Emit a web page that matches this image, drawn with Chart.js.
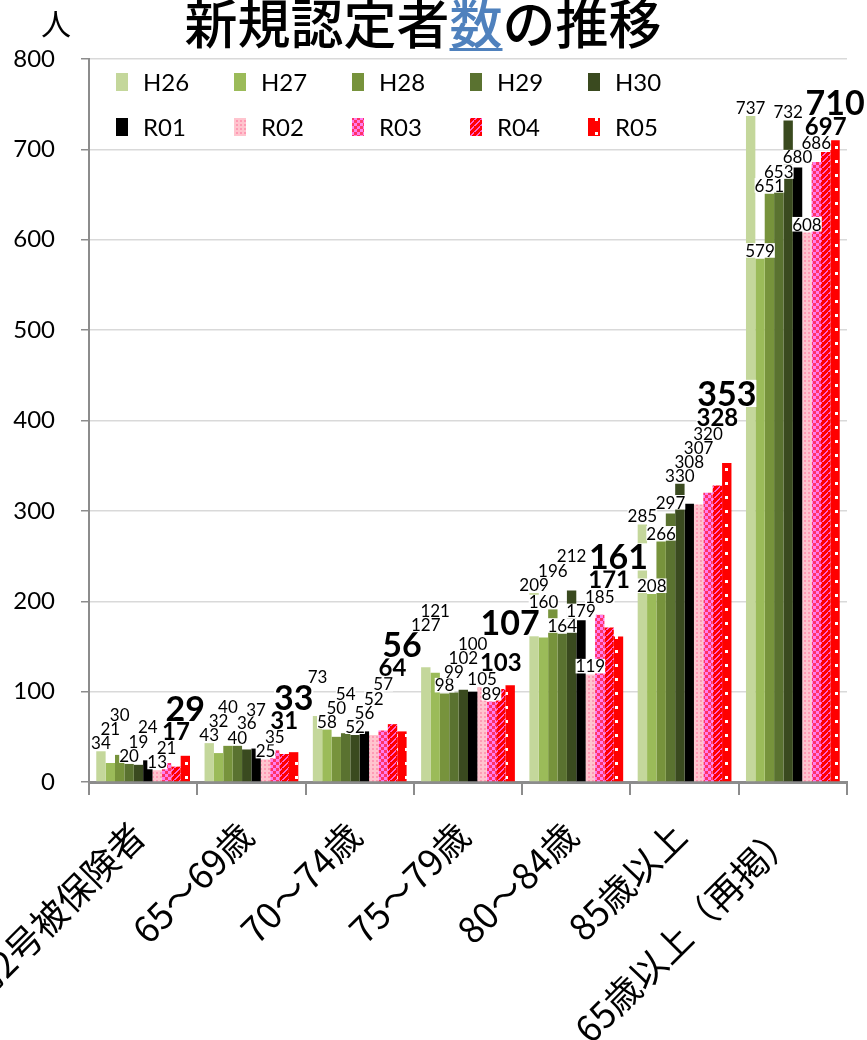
<!DOCTYPE html>
<html lang="ja">
<head>
<meta charset="utf-8">
<title>新規認定者数の推移</title>
<script src="https://cdn.jsdelivr.net/npm/chart.js@4.4.1/dist/chart.umd.min.js"></script>
<style>
  html, body { margin: 0; padding: 0; background: #fff; }
  #wrap { width: 867px; height: 1040px; }
</style>
</head>
<body>
<div id="wrap"><canvas id="chart" width="867" height="1040"></canvas></div>
<script>
// 新規認定者数の推移

const categories = ['第2号被保険者', '65～69歳', '70～74歳', '75～79歳', '80～84歳', '85歳以上', '65歳以上（再掲）'];
const years = ['H26', 'H27', 'H28', 'H29', 'H30', 'R01', 'R02', 'R03', 'R04', 'R05'];

const h26 = [34, 43, 73, 127, 209, 285, 737];
const h27 = [21, 32, 58, 121, 160, 208, 579];
const h28 = [30, 40, 50, 98, 196, 266, 651];
const h29 = [20, 40, 54, 99, 164, 297, 653];
const h30 = [19, 36, 52, 102, 212, 330, 732];
const r01 = [24, 37, 56, 100, 179, 308, 680];
const r02 = [13, 25, 52, 105, 119, 307, 608];
const r03 = [21, 35, 57, 89, 185, 320, 686];
const r04 = [17, 31, 64, 103, 171, 328, 697];
const r05 = [29, 33, 56, 107, 161, 353, 710];
const seriesValues = [h26, h27, h28, h29, h30, r01, r02, r03, r04, r05];

const yTicks = [0, 100, 200, 300, 400, 500, 600, 700, 800];

// fills
function makePattern(w, h, paint) {
    const c = document.createElement('canvas');
    c.width = w;
    c.height = h;
    const g = c.getContext('2d');
    paint(g, w, h);
    return g.createPattern(c, 'repeat');
}

const fillR02 = makePattern(4, 4, (g) => {
    g.fillStyle = '#FFC4CE';
    g.fillRect(0, 0, 4, 4);
    g.fillStyle = '#FF9AB4';
    g.fillRect(0, 0, 2, 2);
});
const fillR03 = makePattern(6, 6, (g) => {
    g.fillStyle = '#FF7DEF';
    g.fillRect(0, 0, 6, 6);
    g.fillStyle = '#FF3366';
    g.fillRect(0, 0, 3, 3);
    g.fillRect(3, 3, 3, 3);
});
const fillR04 = makePattern(6, 6, (g) => {
    g.fillStyle = '#FF0000';
    g.fillRect(0, 0, 6, 6);
    g.fillStyle = '#FF5FD0';
    for (let k = 0; k < 6; k++) {
        g.fillRect(k, 5 - k, 2, 1);
    }
});
const fillR05 = makePattern(10, 14, (g) => {
    g.fillStyle = '#FF0000';
    g.fillRect(0, 0, 10, 14);
    g.fillStyle = '#FFFFFF';
    g.fillRect(5, 6, 3, 3);
});

const fills = ['#C4D79B', '#9BBB59', '#77933C', '#5A7230', '#3A4A1F', '#000000', fillR02, fillR03, fillR04, fillR05];

function labelFont(d) {
    if (d === 9) return { size: 34, weight: 'bold' };
    if (d === 8) return { size: 24, weight: 'bold' };
    return { size: 17, weight: 'normal' };
}

// title + unit
const titlePlugin = {
    id: 'titleText',
    afterDraw(chart) {
        const ctx = chart.ctx;
        ctx.save();
        ctx.font = '500 53px "Noto Sans CJK JP"';
        ctx.textBaseline = 'alphabetic';
        const parts = [['新規認定者', '#000000'], ['数', '#4F81BD'], ['の推移', '#000000']];
        const total = parts.reduce((s, p) => s + ctx.measureText(p[0]).width, 0);
        let x = 423 - total / 2;
        parts.forEach(([t, c]) => {
            const w = ctx.measureText(t).width;
            ctx.fillStyle = c;
            ctx.fillText(t, x, 44);
            if (t === '数') ctx.fillRect(x, 48, w, 3);
            x += w;
        });
        ctx.font = '30px "Noto Sans CJK JP"';
        ctx.fillStyle = '#000';
        ctx.textAlign = 'center';
        ctx.textBaseline = 'middle';
        ctx.fillText('人', 56, 24);
        ctx.restore();
    }
};

// legend in two rows of five
const legendPlugin = {
    id: 'gridLegend',
    afterDraw(chart) {
        const ctx = chart.ctx;
        ctx.save();
        ctx.font = '24px Lato';
        ctx.textBaseline = 'middle';
        chart.data.datasets.forEach((ds, d) => {
            const x = 116 + (d % 5) * 118;
            const y = 82 + Math.floor(d / 5) * 45;
            ctx.fillStyle = ds.backgroundColor;
            ctx.fillRect(x, y - 9, 12, 18);
            ctx.fillStyle = '#000';
            ctx.fillText(ds.label, x + 27, y + 1);
        });
        ctx.restore();
    }
};

// rotated category labels
const xLabelPlugin = {
    id: 'xLabels',
    afterDraw(chart) {
        const xs = chart.scales.x;
        const ctx = chart.ctx;
        ctx.save();
        ctx.font = '36px "Noto Sans CJK JP"';
        ctx.fillStyle = '#000';
        ctx.textAlign = 'right';
        ctx.textBaseline = 'middle';
        categories.forEach((c, i) => {
            const x = xs.getPixelForTick(i);
            ctx.save();
            ctx.translate(x - 5, xs.top + 47);
            ctx.rotate(-Math.PI / 4);
            ctx.fillText(c, 0, 0);
            ctx.restore();
        });
        ctx.restore();
    }
};

// value labels with white boxes, nudged up when they collide
const valuePlugin = {
    id: 'valueLabels',
    afterDatasetsDraw(chart) {
        const ctx = chart.ctx;
        const placed = [];
        const hit = (r) => placed.some(p => r.x1 < p.x2 && r.x2 > p.x1 && r.y1 < p.y2 && r.y2 > p.y1);
        ctx.save();
        ctx.textAlign = 'center';
        ctx.textBaseline = 'alphabetic';
        chart.data.labels.forEach((_, i) => {
            chart.data.datasets.forEach((ds, d) => {
                const bar = chart.getDatasetMeta(d).data[i];
                const f = labelFont(d);
                ctx.font = f.weight + ' ' + f.size + 'px Lato';
                const text = String(ds.data[i]);
                const w = ctx.measureText(text).width;
                const capH = f.size * 0.74;
                let base = bar.y - 2;
                let r = { x1: bar.x - w / 2, x2: bar.x + w / 2, y1: base - capH, y2: base + 1 };
                while (hit(r)) {
                    base -= 1;
                    r = { x1: r.x1, x2: r.x2, y1: base - capH, y2: base + 1 };
                }
                placed.push(r);
                ctx.fillStyle = '#fff';
                ctx.fillRect(r.x1, r.y1 - 1, w, r.y2 - r.y1 + 1);
                ctx.fillStyle = '#000';
                ctx.fillText(text, bar.x, base);
            });
        });
        ctx.restore();
    }
};

const ctx = document.getElementById('chart').getContext('2d');
new Chart(ctx, {
    type: 'bar',
    data: {
        labels: categories,
        datasets: years.map((y, d) => ({
            label: y,
            data: seriesValues[d],
            backgroundColor: fills[d],
            borderWidth: 0,
            categoryPercentage: 0.866,
            barPercentage: 1.0
        }))
    },
    options: {
        responsive: false,
        animation: false,
        layout: { padding: { left: 0, right: 20, top: 59, bottom: 0 } },
        plugins: {
            legend: { display: false },
            title: { display: false },
            tooltip: { enabled: false }
        },
        scales: {
            x: {
                grid: { display: true, offset: true, drawOnChartArea: false, drawTicks: true, tickLength: 13, color: '#8C8C8C', lineWidth: 2 },
                border: { color: '#8C8C8C', width: 3 },
                ticks: { display: false },
                afterFit: (s) => { s.height = 258; }
            },
            y: {
                min: 0,
                max: 800,
                afterBuildTicks: (s) => { s.ticks = yTicks.map(v => ({ value: v })); },
                ticks: { font: { family: 'Lato', size: 24 }, color: '#000', padding: 26 },
                grid: { color: '#D9D9D9', lineWidth: 1.5, tickLength: 8, tickColor: '#8C8C8C' },
                border: { color: '#8C8C8C', width: 2 },
                afterFit: (s) => { s.width = 89; }
            }
        }
    },
    plugins: [valuePlugin, legendPlugin, titlePlugin, xLabelPlugin]
});
</script>
</body>
</html>
